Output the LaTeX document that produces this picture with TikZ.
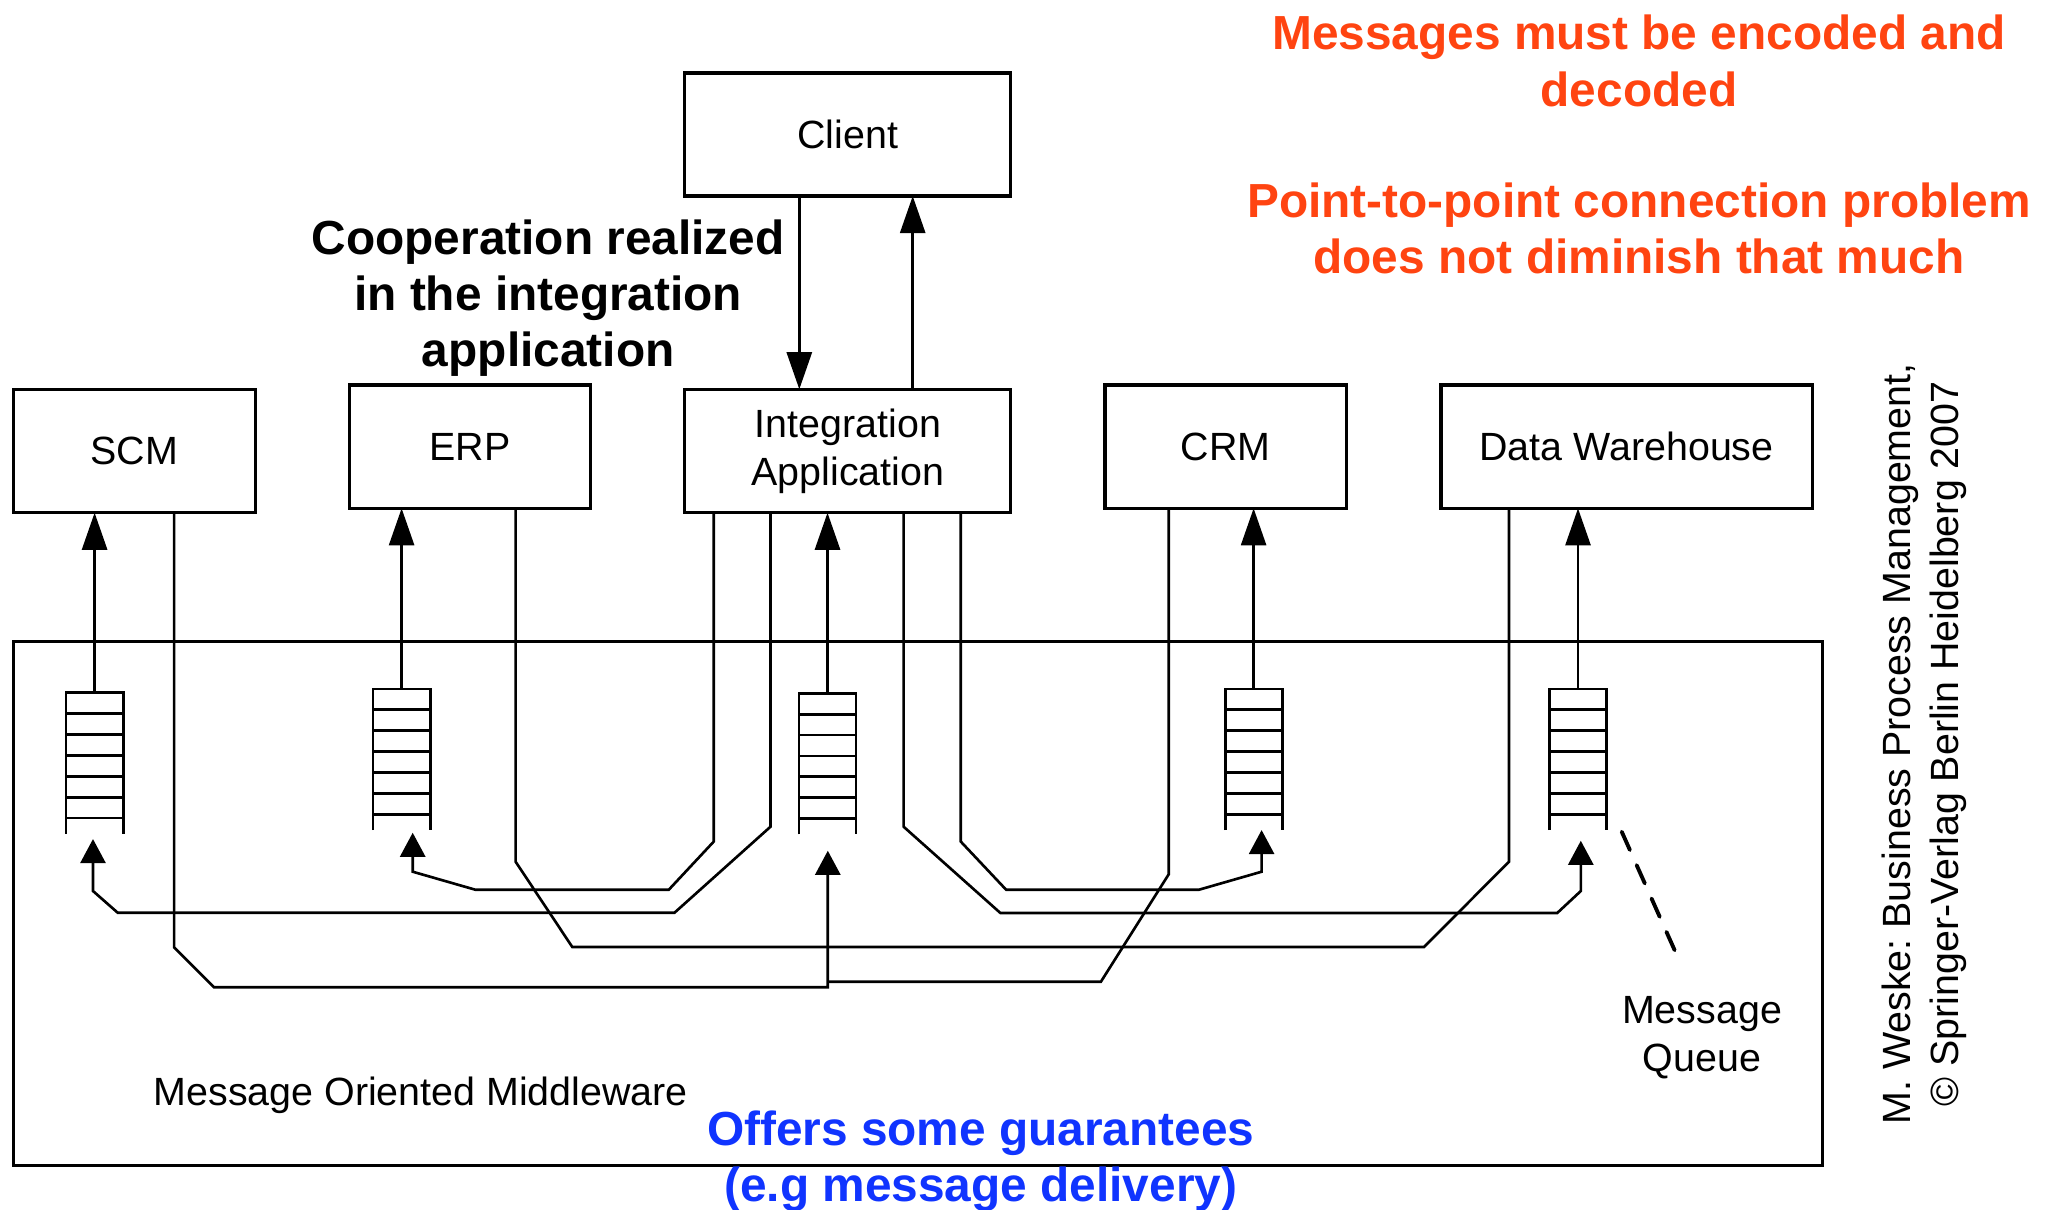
\documentclass[tikz,border=0pt]{standalone}
\usepackage{fontspec}
\setmainfont{Liberation Sans}
\usetikzlibrary{arrows.meta,calc}
\definecolor{warnorange}{RGB}{255,68,17}
\definecolor{noteblue}{RGB}{16,52,255}
\newcommand\regfont{\fontsize{11.2}{13.6}\selectfont}
\newcommand\bigboldfont{\fontsize{13.6}{15.93}\selectfont\bfseries}
\frenchspacing
\begin{document}
\begin{tikzpicture}[x=0.01cm,y=-0.01cm,
  box/.style={draw, line width=0.9pt, inner sep=0pt, outer sep=0pt, font=\regfont, align=center},
  queue/.style={draw=none, inner sep=0pt, outer sep=0pt, minimum width=0.57cm, minimum height=1.41cm},
  qline/.style={line width=0.8pt},
  wire/.style={line width=0.75pt, line join=miter},
  arr/.style={wire, -{Triangle[length=0.37cm,width=0.25cm]}},
  inarr/.style={wire, -{Triangle[length=0.24cm,width=0.25cm]}},
  reg/.style={font=\regfont, inner sep=0pt},
  bigbold/.style={font=\bigboldfont, inner sep=0pt, align=center, anchor=base}]
\useasboundingbox (0,0) rectangle (2049,1209);

% middleware frame
\node[box, minimum width=18.076cm, minimum height=5.233cm] (mom) at (917.8,903.35) {};

% application boxes
\node[box, minimum width=3.257cm, minimum height=1.23cm] (client) at (847.85,134.5) {Client};
\node[box, minimum width=2.42cm, minimum height=1.234cm] (scm) at (134.4,451) {SCM};
\node[box, minimum width=2.41cm, minimum height=1.233cm] (erp) at (470.1,446.65) {ERP};
\node[box, minimum width=3.257cm, minimum height=1.234cm] (ia) at (847.85,451) {Integration\\Application};
\node[box, minimum width=2.41cm, minimum height=1.233cm] (crm) at (1225.5,446.65) {CRM};
\node[box, minimum width=3.709cm, minimum height=1.233cm] (dw) at (1626.55,446.65) {Data Warehouse};

% queues
\node[queue] (qscm) at (94.6,763.2) {};
\node[queue] (qerp) at (401.6,759.5) {};
\node[queue] (qia) at (827.5,763.8) {};
\node[queue] (qcrm) at (1253.6,759.5) {};
\node[queue] (qdw) at (1578,759.5) {};
\foreach \q in {qscm,qerp,qia,qcrm,qdw}{
  \draw[qline] (\q.south west) -- (\q.north west) -- (\q.north east) -- (\q.south east);
  \foreach \k in {1,...,6}{
    \draw[qline] ($(\q.north west)+(0,\k*20.9)$) -- ($(\q.north east)+(0,\k*20.9)$);
  }
}

% client <-> integration application
\draw[arr] ($(client.south)+(-48.55,0)$) -- ($(ia.north)+(-48.55,0)$);
\draw[arr] ($(ia.north)+(64.85,0)$) -- ($(client.south)+(64.85,0)$);

% queue -> application
\draw[arr] (qscm.north) -- (qscm.north |- scm.south);
\draw[arr] (qerp.north) -- (qerp.north |- erp.south);
\draw[arr] (qia.north) -- (qia.north |- ia.south);
\draw[arr] (qcrm.north) -- (qcrm.north |- crm.south);
\draw[arr] (qdw.north) -- (qdw.north |- dw.south);

% integration application -> queues
\draw[inarr] ($(ia.south)+(-77.35,0)$) -- (770.5,826.7) -- (674.5,912.7) -- (117.7,912.7) -- (93,891) -- ($(qscm.south)+(-1.6,5.3)$);
\draw[inarr] ($(ia.south)+(-134.05,0)$) -- (713.8,841.5) -- (668.8,889.7) -- (475.3,889.7) -- (412.7,871.7) -- ($(qerp.south)+(11.1,2.7)$);
\draw[inarr] ($(ia.south)+(55.75,0)$) -- (903.6,826.7) -- (1000.4,913) -- (1557.2,913) -- (1580.8,891) -- ($(qdw.south)+(2.8,10.7)$);
\draw[inarr] ($(ia.south)+(112.85,0)$) -- (960.7,841.5) -- (1006.1,889.7) -- (1199,889.7) -- (1261.6,871.7) -- ($(qcrm.south)+(8,0)$);

% SCM and CRM -> integration application queue
\draw[inarr] ($(scm.south)+(39.7,0)$) -- (174.1,947.3) -- (214.1,987.3) -- (827.8,987.3) -- ($(qia.south)+(0.3,16.4)$);
\coordinate (join) at (827.8,981.7);
\draw[wire] ($(crm.south)+(-56.8,0)$) -- (1168.7,874.3) -- (1100.9,981.7) -- (join);

% ERP <-> Data Warehouse
\draw[wire] ($(erp.south)+(45.5,0)$) -- (515.6,861.7) -- (572.3,947) -- (1424,947) -- (1509,861.7) -- ($(dw.south)+(-117.55,0)$);

% labels (anchor base = baseline of the last line)
\node[bigbold] (coop) at (548.2,366.7) {Cooperation realized\\in the integration\\application};
\node[bigbold, text=warnorange] (enc) at (1639,106) {Messages must be encoded and\\decoded};
\node[bigbold, text=warnorange] (p2p) at (1639,273.3) {Point-to-point connection problem\\does not diminish that much};
\node[bigbold, text=noteblue] (guar) at (980.8,1201) {Offers some guarantees\\(e.g message delivery)};
\node[reg, anchor=base west] (momlabel) at (153,1105) {Message Oriented Middleware};
\node[reg, anchor=base, align=center] (mql) at (1702,1071.7) {Message\\Queue};
\node[reg, rotate=90, anchor=base, align=center] (copy) at (1958,744) {M. Weske: Business Process Management,\\© Springer-Verlag Berlin Heidelberg 2007};

% pointer to the message queue
\coordinate (mqa) at (1621.7,831.7);
\coordinate (mqb) at (1676,953.3);
\draw[line width=1.1pt, dash pattern=on 5.7pt off 4.7pt, line cap=round] (mqa) -- (mqb);
\end{tikzpicture}
\end{document}
